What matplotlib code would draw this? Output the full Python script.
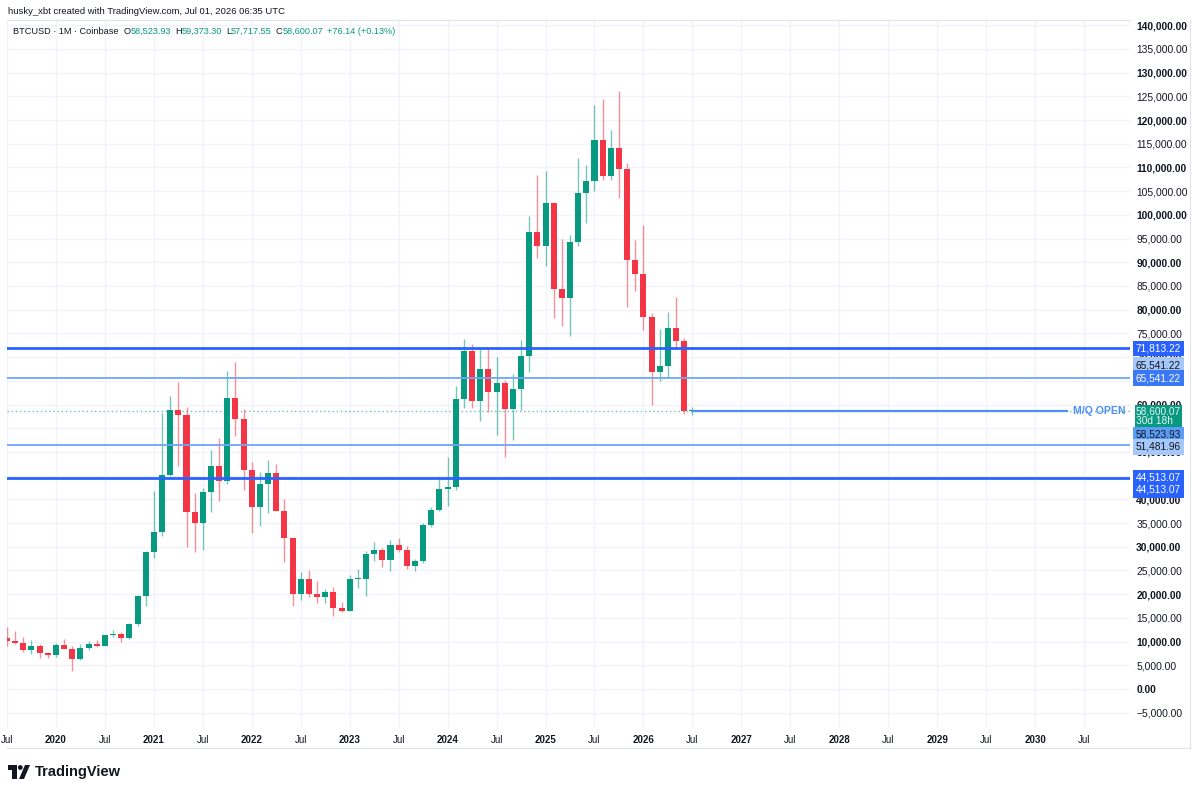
import matplotlib
matplotlib.use('Agg')
import matplotlib.pyplot as plt
import matplotlib.transforms as mtransforms
from matplotlib.patches import Polygon, Circle
import numpy as np

plt.rcParams['font.family'] = ['Liberation Sans', 'DejaVu Sans']

# monthly BTCUSD candles, Jul 2019 .. Jul 2026
first_month = -6   # months relative to Jan 2020
opens = [10800, 10080, 9600, 8300, 9150, 7550,
         7200, 9350, 8530, 6410, 8630, 9450, 9140, 11340, 11650, 10780, 13800, 19700,
         28990, 33100, 45200, 58800, 57700, 37300, 35040, 41460, 47100, 43820, 61300, 56950,
         46200, 38480, 43180, 45530, 37640, 31800, 19940, 23290, 20050, 19420, 20490, 17170,
         16540, 23130, 23140, 28480, 29250, 27220, 30470, 29230, 25940, 26970, 34660, 37720,
         42280, 42580, 61170, 71330, 60640, 67530, 62700, 64600, 58980, 63330, 70280, 96450,
         93400, 102400, 84350, 82550, 94200, 104600, 107100, 115750, 108250, 114050, 109600, 90400,
         87500, 78400, 66900, 68100, 76100, 73400, 58523.93]
highs = [13100, 12300, 10900, 10400, 9500, 7750,
         9600, 10500, 9100, 9450, 10070, 10380, 11400, 12470, 12080, 14000, 19900, 29100,
         41800, 58300, 61800, 64800, 59500, 41300, 42400, 50500, 52900, 67000, 69000, 59100,
         47900, 45800, 48200, 47400, 40000, 31950, 24700, 25200, 22800, 21100, 21500, 18400,
         23950, 25250, 29200, 31000, 29800, 31400, 31800, 30200, 27500, 35000, 38400, 44700,
         48900, 63900, 73800, 72800, 71900, 72000, 70000, 65100, 66500, 73600, 99700, 108300,
         109300, 102700, 95000, 95800, 112000, 110500, 123200, 124400, 117900, 126200, 111000, 94600,
         97900, 79300, 75900, 79500, 82700, 74000, 59373.30]
lows = [9100, 9400, 7700, 7400, 6500, 6450,
        6850, 8450, 3850, 6150, 8120, 8900, 8980, 10950, 9900, 10550, 13200, 17600,
        27700, 32300, 45000, 47000, 30000, 28800, 29300, 37300, 39600, 43300, 53300, 42000,
        32900, 34300, 37200, 37600, 26700, 17600, 18800, 19500, 18150, 18200, 15500, 16300,
        16500, 21400, 19600, 27000, 25800, 24800, 28900, 25300, 24900, 26600, 34100, 37600,
        38500, 41900, 59300, 59200, 56500, 58400, 53500, 49000, 52600, 58900, 66800, 90800,
        89200, 78200, 76600, 74400, 93400, 98200, 105100, 107300, 107300, 103500, 80600, 84000,
        75700, 59900, 65000, 65600, 72100, 58000, 57717.55]
closes = [10080, 9600, 8300, 9150, 7550, 7200,
          9350, 8530, 6410, 8630, 9450, 9140, 11340, 11650, 10780, 13800, 19700, 28990,
          33100, 45200, 58800, 57700, 37300, 35040, 41460, 47100, 43820, 61300, 56950, 46200,
          38480, 43180, 45530, 37640, 31800, 19940, 23290, 20050, 19420, 20490, 17170, 16540,
          23130, 23140, 28480, 29250, 27220, 30470, 29230, 25940, 26970, 34660, 37720, 42280,
          42580, 61170, 71330, 60640, 67530, 62700, 64600, 58980, 63330, 70280, 96450, 93400,
          102400, 84350, 82550, 94200, 104600, 107100, 115750, 108250, 114050, 109600, 90400, 87500,
          78400, 66900, 68100, 76100, 73400, 58523.93, 58600.07]

# horizontal levels drawn on the chart
strong_levels = [71813.22, 44513.07]
light_levels = [65541.22, 51481.96]
mq_open = 58523.93
last_price = 58600.07

GREEN = '#089981'
RED = '#f23645'
BLUE = '#2962ff'
LBLUE = '#6ea6f8'
TXT = '#131722'
GRID = '#f0f3fa'

W, H = 1200, 793
fig = plt.figure(figsize=(W / 100, H / 100), dpi=100)
fig.patch.set_facecolor('white')

ax_l, ax_r, ax_t, ax_b = 7, 1130, 20, 728
ax = fig.add_axes([ax_l / W, 1 - ax_b / H, (ax_r - ax_l) / W, (ax_b - ax_t) / H])

x = np.arange(len(opens)) + first_month
o = np.array(opens); h = np.array(highs); l = np.array(lows); c = np.array(closes)
up = c >= o
cols = np.where(up, GREEN, RED)

# grid
xt = list(range(-6, 132, 6))
yt = list(range(-5000, 140001, 5000))
for v in yt:
    ax.axhline(v, color=GRID, lw=1, zorder=0)
for v in xt:
    ax.axvline(v, color=GRID, lw=1, zorder=0)

# candles
ax.vlines(x, l, h, colors=cols, lw=1, alpha=0.55, zorder=2)
body = np.maximum(np.abs(c - o), 250)
ax.bar(x, body, bottom=np.minimum(o, c), width=0.74, color=cols, lw=0, zorder=3)

# levels
for lv in strong_levels:
    ax.axhline(lv, color=BLUE, lw=2, zorder=4)
for lv in light_levels:
    ax.axhline(lv, color=LBLUE, lw=1.3, zorder=4)
ax.axhline(last_price, color=GREEN, lw=1, ls=(0, (1, 2)), alpha=0.6, zorder=1)
ax.hlines(mq_open, x[-1], 124.0, color='#4f8ff5', lw=1.6, zorder=5)
ax.text(124.6, mq_open, 'M/Q OPEN', color='#4f8ff5', fontsize=7.6, fontweight='bold',
        va='center', ha='left', zorder=5)

ax.set_xlim(-5.88, 131.63)
ax.set_ylim(-8225, 141090)

ax.set_xticks(xt)
ax.set_xticklabels(['Jul' if m % 12 == 6 else str(2020 + m // 12) for m in xt])
for lab, m in zip(ax.get_xticklabels(), xt):
    lab.set_fontweight('normal' if m % 12 == 6 else 'bold')
    lab.set_fontsize(7)
    lab.set_color(TXT)
ax.tick_params(axis='x', length=0, pad=5)

ax.yaxis.tick_right()
ax.set_yticks(yt)
ax.set_yticklabels([f'{v:,.2f}'.replace('-', '\u2212') for v in yt])
for lab, v in zip(ax.get_yticklabels(), yt):
    lab.set_fontweight('bold' if v % 10000 == 0 else 'normal')
    lab.set_fontsize(7.4)
    lab.set_color(TXT)
ax.tick_params(axis='y', length=0, pad=4.5)

for s in ['left', 'bottom', 'right']:
    ax.spines[s].set_visible(False)
ax.spines['top'].set_color('#e0e3eb')
ax.spines['top'].set_linewidth(0.8)

# price tags on the right axis
trans = mtransforms.blended_transform_factory(ax.transAxes, ax.transData)


def tag(price, text, face, tc, dy=0, pad=0.28):
    ax.annotate(text, xy=(1, price), xycoords=trans, xytext=(6, dy), textcoords='offset pixels',
                ha='left', va='center', fontsize=7.3, color=tc, zorder=10,
                annotation_clip=False, linespacing=0.88,
                bbox=dict(boxstyle=f'square,pad={pad}', fc=face, ec='none'))


tag(71813.22, '71,813.22', BLUE, 'white')
tag(65541.22, '65,541.22', '#a6c8fa', TXT, dy=13)
tag(65541.22, '65,541.22', '#3a78f6', 'white')
tag(last_price, '58,600.07\n30d 18h', GREEN, '#e6f5f1', dy=-5, pad=0.12)
tag(mq_open, '58,523.93', '#5b9cf6', TXT, dy=-23)
tag(51481.96, '51,481.96', '#a6c8fa', TXT, dy=-2)
tag(44513.07, '44,513.07', BLUE, 'white')
tag(44513.07, '44,513.07', BLUE, 'white', dy=-12)

# frame lines of the chart pane
fig.add_artist(plt.Line2D([ax_l / W, 1190 / W], [1 - 748 / H] * 2, color='#e0e3eb', lw=0.8))
fig.add_artist(plt.Line2D([1190 / W] * 2, [1 - 748 / H, 1 - ax_t / H], color='#e0e3eb', lw=0.8))

# header
fig.text(8 / W, 1 - 12 / H, 'husky_xbt created with TradingView.com, Jul 01, 2026 06:35 UTC',
         fontsize=6.8, color=TXT, va='center', ha='left')

# legend row, laid out piece by piece
yh = 1 - 31 / H
pieces = [('BTCUSD \u00b7 1M \u00b7 Coinbase', TXT, 5), ('O', TXT, 0), ('58,523.93', GREEN, 4),
          ('H', TXT, 0), ('59,373.30', GREEN, 4), ('L', TXT, 0), ('57,717.55', GREEN, 4),
          ('C', TXT, 0), ('58,600.07', GREEN, 4), ('+76.14 (+0.13%)', GREEN, 0)]
renderer = fig.canvas.get_renderer()
px = 13
for t, col, gap in pieces:
    tx = fig.text(px / W, yh, t, fontsize=6.6, color=col, va='center')
    px += tx.get_window_extent(renderer).width + gap

# TradingView logo
lax = fig.add_axes([8 / W, 1 - 779 / H, 22 / W, 14 / H])
lax.set_xlim(0, 22)
lax.set_ylim(0, 14)
lax.axis('off')
lax.add_patch(Polygon([(0, 14), (9, 14), (9, 0), (4, 0), (4, 9), (0, 9)], closed=True, fc=TXT, ec='none'))
lax.add_patch(Circle((12.3, 11.5), 2.4, fc=TXT, ec='none'))
lax.add_patch(Polygon([(11, 0), (16, 0), (22, 14), (17, 14)], closed=True, fc=TXT, ec='none'))
fig.text(35 / W, 1 - 772 / H, 'TradingView', fontsize=10.5, fontweight='bold', color=TXT, va='center')

fig.savefig('out.png', dpi=100)
